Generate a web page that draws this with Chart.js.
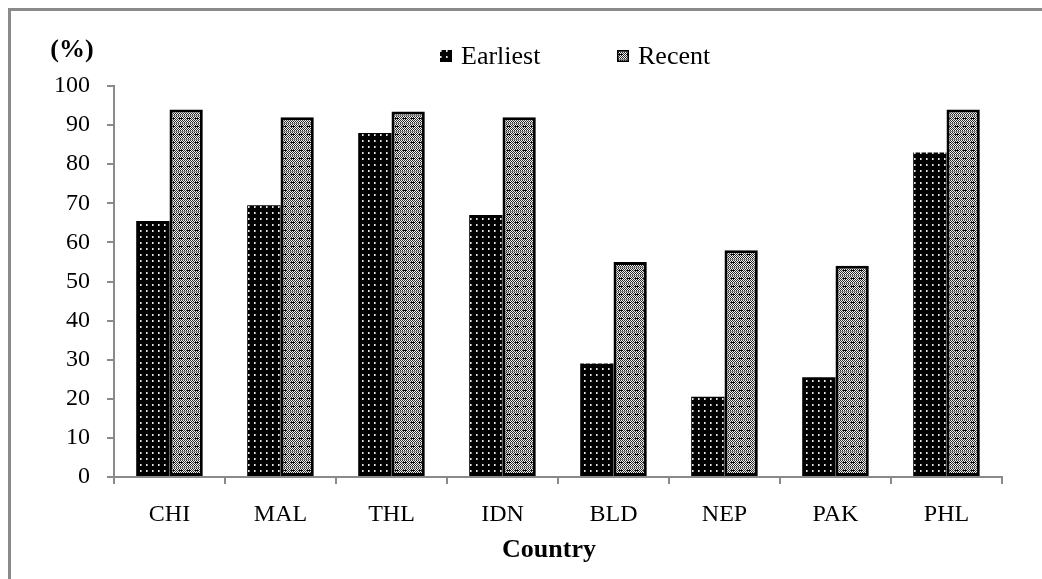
<!DOCTYPE html>
<html>
<head>
<meta charset="utf-8">
<script src="https://cdn.jsdelivr.net/npm/chart.js@4.4.0/dist/chart.umd.min.js"></script>
<style>
  html, body { margin: 0; padding: 0; background: #fff; }
  #wrap { position: relative; width: 1042px; height: 579px; overflow: hidden; }
  #frame { position: absolute; left: 8px; top: 8px; right: -10px; bottom: -10px;
           border-left: 3px solid #8a8a8a; border-top: 3px solid #8a8a8a; pointer-events: none; }
  canvas { position: absolute; left: 0; top: 0; }
</style>
</head>
<body>
<div id="wrap">
  <canvas id="chart" width="1042" height="579"></canvas>
  <div id="frame"></div>
</div>
<script>
// ----------------- Data -----------------
const countries = ["CHI", "MAL", "THL", "IDN", "BLD", "NEP", "PAK", "PHL"];
const earliest = [65.5, 69.5, 88, 67, 29, 20.5, 25.5, 83];
const recent = [94, 92, 93.5, 92, 55, 58, 54, 94];
const seriesNames = ["Earliest", "Recent"];
const yTicks = [0, 10, 20, 30, 40, 50, 60, 70, 80, 90, 100];

const FONT = "'Liberation Serif', 'Times New Roman', serif";
const AXIS = "#8a8a8a";

// ----------------- Fill patterns -----------------
function makePattern(w, h, draw){
  const c = document.createElement("canvas");
  c.width = w; c.height = h;
  draw(c.getContext("2d"));
  return document.getElementById("chart").getContext("2d").createPattern(c, "repeat");
}

// black with small light dots
const dotFill = makePattern(6, 6, g=>{
  g.fillStyle = "#000"; g.fillRect(0, 0, 6, 6);
  g.fillStyle = "#e8e8e8"; g.fillRect(2, 2, 1, 2);
  g.fillStyle = "#888"; g.fillRect(3, 2, 1, 2);
});

// grey checker with dark dashes
const checkFill = makePattern(8, 8, g=>{
  for(let y=0;y<8;y++){
    for(let x=0;x<8;x++){
      g.fillStyle = (x+y)%2 ? "#f0f0f0" : "#2a2a2a";
      g.fillRect(x, y, 1, 1);
    }
  }
  g.fillStyle = "#8a8a8a"; g.fillRect(0, 3, 8, 1);
  g.fillStyle = "#000"; g.fillRect(3, 6, 4, 1);
});

// ----------------- Extra texts + legend -----------------
const decorPlugin = {
  id: "decor",
  afterDraw(chart){
    const ctx = chart.ctx;
    ctx.save();
    ctx.fillStyle = "#000";
    ctx.textBaseline = "middle";

    // unit label
    ctx.font = "bold 26px " + FONT;
    ctx.textAlign = "center";
    ctx.fillText("(%)", 72, 50);

    // axis title
    ctx.font = "bold 26px " + FONT;
    ctx.fillText("Country", 549, 550);

    // legend
    ctx.font = "26px " + FONT;
    ctx.textAlign = "left";
    const items = [{x:440, fill:dotFill, border:0}, {x:617, fill:checkFill, border:1.5}];
    items.forEach((it,i)=>{
      ctx.fillStyle = it.fill;
      ctx.fillRect(it.x, 50, 12, 12);
      if(it.border){
        ctx.strokeStyle = "#000";
        ctx.lineWidth = it.border;
        ctx.strokeRect(it.x+0.75, 50.75, 10.5, 10.5);
      }
      ctx.fillStyle = "#000";
      ctx.fillText(seriesNames[i], it.x+21, 57);
    });
    ctx.restore();
  }
};

// ----------------- Chart -----------------
new Chart(document.getElementById("chart"), {
  type: "bar",
  data: {
    labels: countries,
    datasets: [
      {label: seriesNames[0], data: earliest, backgroundColor: dotFill, borderWidth: 0},
      {label: seriesNames[1], data: recent, backgroundColor: checkFill,
       borderColor: "#000", borderWidth: 3, borderSkipped: false}
    ]
  },
  options: {
    responsive: false,
    animation: false,
    layout: {padding: {top: 86, right: 40, left: 0, bottom: 0}},
    datasets: {bar: {categoryPercentage: 0.6, barPercentage: 1}},
    plugins: {legend: {display: false}, tooltip: {enabled: false}},
    scales: {
      x: {
        afterFit: s=>{ s.height = 102; },
        grid: {display: true, drawOnChartArea: false, drawTicks: true, tickLength: 7,
               color: AXIS, lineWidth: 2, offset: true},
        border: {color: AXIS, width: 2},
        ticks: {color: "#000", padding: 16, font: {family: FONT, size: 24}}
      },
      y: {
        min: 0, max: 100,
        afterFit: s=>{ s.width = 114; },
        afterBuildTicks: s=>{ s.ticks = yTicks.map(v=>({value: v})); },
        grid: {display: true, drawOnChartArea: false, drawTicks: true, tickLength: 7,
               color: AXIS, lineWidth: 2},
        border: {color: AXIS, width: 2},
        ticks: {color: "#000", padding: 17, font: {family: FONT, size: 24}}
      }
    }
  },
  plugins: [decorPlugin]
});
</script>
</body>
</html>
